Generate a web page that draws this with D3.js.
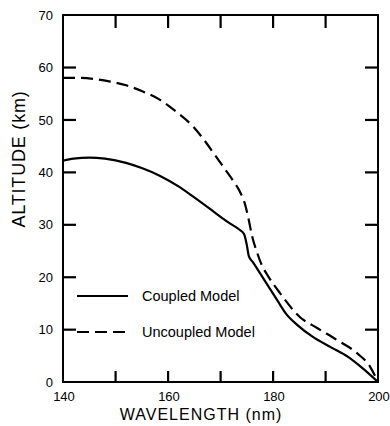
<!DOCTYPE html>
<html><head><meta charset="utf-8">
<script src="https://cdn.jsdelivr.net/npm/d3@7"></script>
<style>
html,body{margin:0;padding:0;background:#fff;}
svg{display:block;}
text{font-family:"Liberation Sans","DejaVu Sans",sans-serif;fill:#000;}
</style></head>
<body><svg id="c" width="390" height="426"></svg>
<script>
const xTicks = [140, 160, 180, 200];
const xMinorTicks = [150, 160, 170, 180, 190];
const yTicks = [0, 10, 20, 30, 40, 50, 60, 70];
const seriesNames = ["Coupled Model", "Uncoupled Model"];
const coupledWl  = [140, 142, 145, 148, 152, 155, 158.5, 162, 165, 168, 170, 172, 173.7, 174.5, 175.0, 175.4, 176.2, 178, 180.8, 182.5, 184.6, 187.6, 190.9, 194.3, 197.1, 200];
const coupledAlt = [42.2, 42.6, 42.8, 42.6, 41.8, 40.8, 39.3, 37.3, 35.2, 33.0, 31.5, 30.1, 29.0, 28.2, 26.2, 24.0, 22.8, 20.0, 15.6, 13.0, 10.9, 8.6, 6.7, 4.8, 2.6, 0];
const uncoupledWl  = [140, 143, 146, 149, 152, 155, 158.5, 161.5, 164.8, 167, 169, 171, 172.4, 173.7, 174.7, 175.3, 176.0, 177.0, 178.0, 179.0, 181.3, 185.1, 188.4, 192.2, 196.0, 198.5, 200];
const uncoupledAlt = [58.0, 58.0, 57.8, 57.3, 56.6, 55.5, 53.8, 51.6, 48.7, 46.0, 43.2, 40.4, 38.4, 36.3, 33.8, 31.3, 27.9, 24.6, 22.0, 20.3, 17.0, 12.4, 10.3, 8.0, 5.5, 2.9, 0];

const svg = d3.select("#c");
const L = 63, R = 378, T = 15, B = 382;
const xs = d3.scaleLinear().domain([140, 200]).range([L, R]);
const ys = d3.scaleLinear().domain([0, 70]).range([B, T]);

// frame
svg.append("rect").attr("x", L).attr("y", T).attr("width", R - L).attr("height", B - T)
  .style("fill", "none").style("stroke", "#000").style("stroke-width", "2px");

// inward ticks
const tickG = svg.append("g");
xMinorTicks.forEach(d => {
  tickG.append("rect").attr("x", xs(d) - 1).attr("y", B - 11).attr("width", 2.2).attr("height", 11).style("fill", "#000");
  tickG.append("rect").attr("x", xs(d) - 1).attr("y", T).attr("width", 2.2).attr("height", 13).style("fill", "#000");
});
yTicks.slice(1, -1).forEach(d => {
  tickG.append("rect").attr("x", L).attr("y", ys(d) - 1).attr("width", 13).attr("height", 2.2).style("fill", "#000");
  tickG.append("rect").attr("x", R - 13).attr("y", ys(d) - 1).attr("width", 13).attr("height", 2.2).style("fill", "#000");
});

// tick labels
svg.selectAll(".ylab").data(yTicks).enter().append("text")
  .attr("x", L - 10).attr("y", d => ys(d)).attr("dy", "0.36em")
  .attr("text-anchor", "end").attr("font-size", 13).text(d => d);
svg.selectAll(".xlab").data(xTicks).enter().append("text")
  .attr("x", d => xs(d) + 1).attr("y", B + 19)
  .attr("text-anchor", "middle").attr("font-size", 13).text(d => d);

// axis titles
svg.append("text").attr("transform", "translate(25,159) rotate(-90)")
  .attr("text-anchor", "middle").attr("font-size", 18).attr("letter-spacing", 0.8)
  .text("ALTITUDE (km)");
svg.append("text").attr("x", 201).attr("y", 420)
  .attr("text-anchor", "middle").attr("font-size", 16).attr("letter-spacing", 1)
  .text("WAVELENGTH (nm)");

// curves
const line = d3.line().x(d => xs(d[0])).y(d => ys(d[1])).curve(d3.curveMonotoneX);
const coupled = coupledWl.map((w, i) => [w, coupledAlt[i]]);
const uncoupled = uncoupledWl.map((w, i) => [w, uncoupledAlt[i]]);
svg.append("path").attr("d", line(coupled)).style("fill", "none")
  .attr("stroke", "#000").attr("stroke-width", 2.2).attr("stroke-linejoin", "round");
svg.append("path").attr("d", line(uncoupled)).style("fill", "none")
  .attr("stroke", "#000").attr("stroke-width", 2.2).attr("stroke-dasharray", "12,6");

// legend
const leg = [{name: seriesNames[0], dash: "none", yy: 296}, {name: seriesNames[1], dash: "12,6", yy: 332}];
leg.forEach(l => {
  svg.append("path").attr("d", `M77,${l.yy}H128`).style("fill", "none")
    .attr("stroke", "#000").attr("stroke-width", 2.2).attr("stroke-dasharray", l.dash);
  svg.append("text").attr("x", 142).attr("y", l.yy).attr("dy", "0.36em")
    .attr("font-size", 14.5).text(l.name);
});
</script></body></html>
